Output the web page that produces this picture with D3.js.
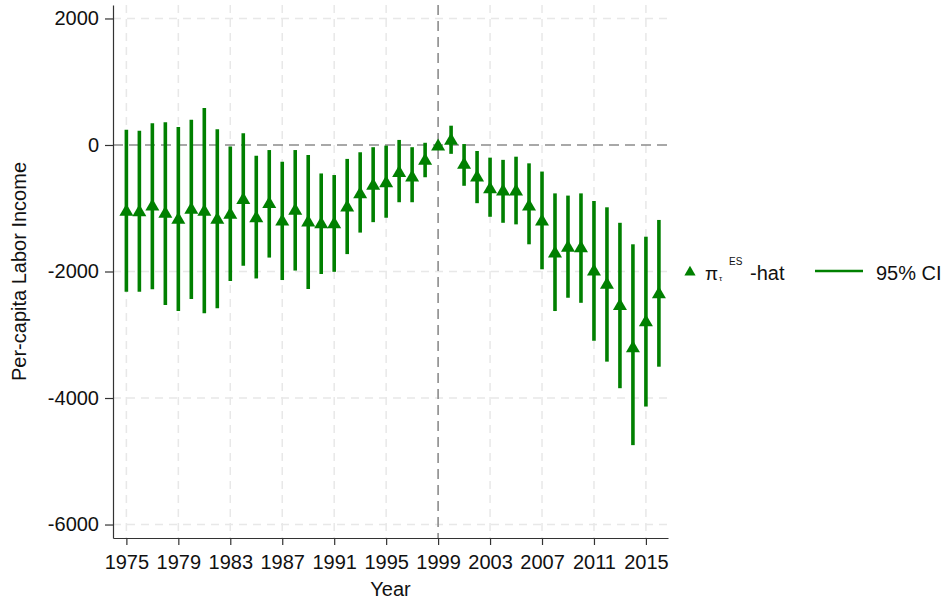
<!DOCTYPE html>
<html>
<head>
<meta charset="utf-8">
<script src="https://cdn.jsdelivr.net/npm/d3@7/dist/d3.min.js"></script>
<style>
  body { margin: 0; background: #fff; }
  text { font-family: "Liberation Sans", Arial, sans-serif; }
</style>
</head>
<body>
<div id="chart"></div>
<script>
// event-study estimates, per-capita labor income (1999 = reference year)
const years = [1975, 1976, 1977, 1978, 1979, 1980, 1981, 1982, 1983, 1984,
    1985, 1986, 1987, 1988, 1989, 1990, 1991, 1992, 1993, 1994, 1995,
    1996, 1997, 1998, 1999, 2000, 2001, 2002, 2003, 2004, 2005,
    2006, 2007, 2008, 2009, 2010, 2011, 2012, 2013, 2014, 2015, 2016];
const estimates = [-1030, -1040, -950, -1065, -1160, -1000, -1030, -1160, -1080, -845,
    -1135, -910, -1185, -1015, -1200, -1230, -1230, -965, -755, -620, -580,
    -420, -490, -225, 0, 90, -290, -490, -675, -710, -710,
    -950, -1185, -1690, -1600, -1610, -1975, -2185, -2520, -3190, -2780, -2335];
const ciUpper = [240, 225, 345, 360, 285, 400, 585, 250, -25, 185,
    -170, -80, -265, -80, -160, -450, -475, -220, -115, -35, -10,
    80, -35, 35, 0, 305, 15, -95, -200, -235, -185,
    -290, -420, -765, -800, -765, -885, -985, -1230, -1570, -1450, -1185];
const ciLower = [-2320, -2320, -2280, -2530, -2625, -2435, -2660, -2580, -2150, -1910,
    -2110, -1780, -2135, -1985, -2275, -2040, -2005, -1725, -1385, -1220, -1150,
    -905, -905, -510, 0, -140, -645, -920, -1135, -1230, -1255,
    -1570, -1965, -2625, -2415, -2495, -3095, -3425, -3845, -4745, -4135, -3505];

const xTicks = [1975, 1979, 1983, 1987, 1991, 1995, 1999, 2003, 2007, 2011, 2015];
const yTicks = [2000, 0, -2000, -4000, -6000];
const refYear = 1999;

drawChart();

function drawChart() {
    const width = 948, height = 601;
    const green = '#008000';
    const fontSize = '20px';

    const svg = d3.select('#chart')
        .append('svg')
        .attr('width', width)
        .attr('height', height);

    // plot region
    const pLeft = 113, pRight = 668, pTop = 5, pBottom = 538;

    const x = d3.scaleLinear().domain([1973.97, 2016.7]).range([pLeft, pRight]);
    const y = d3.scaleLinear().domain([-6213, 2213]).range([pBottom, pTop]);

    // grid lines
    svg.append('g').selectAll('line')
        .data(xTicks.filter(d => d !== refYear))
        .join('line')
        .attr('x1', d => x(d)).attr('x2', d => x(d))
        .attr('y1', pTop).attr('y2', pBottom)
        .style('stroke', '#e8e8e8')
        .style('stroke-width', 1.5)
        .style('stroke-dasharray', '8,6');

    svg.append('g').selectAll('line')
        .data(yTicks.filter(d => d !== 0))
        .join('line')
        .attr('x1', pLeft).attr('x2', pRight)
        .attr('y1', d => y(d)).attr('y2', d => y(d))
        .style('stroke', '#e8e8e8')
        .style('stroke-width', 1.5)
        .style('stroke-dasharray', '8,6');

    // reference lines
    svg.append('line')
        .attr('x1', pLeft).attr('x2', pRight)
        .attr('y1', y(0)).attr('y2', y(0))
        .style('stroke', '#8c8c8c')
        .style('stroke-width', 1.6)
        .style('stroke-dasharray', '10,6');

    svg.append('line')
        .attr('x1', x(refYear)).attr('x2', x(refYear))
        .attr('y1', pTop).attr('y2', pBottom)
        .style('stroke', '#8c8c8c')
        .style('stroke-width', 1.6)
        .style('stroke-dasharray', '10,6');

    // confidence intervals
    const data = years.map((yr, i) => ({ year: yr, est: estimates[i], lo: ciLower[i], hi: ciUpper[i] }));

    svg.append('g').selectAll('line')
        .data(data)
        .join('line')
        .attr('x1', d => x(d.year)).attr('x2', d => x(d.year))
        .attr('y1', d => y(d.hi)).attr('y2', d => y(d.lo))
        .style('stroke', green)
        .style('stroke-width', 3.6);

    // triangle markers
    const tri = s => `M0,${-6.5 * s}L${7 * s},${5.5 * s}L${-7 * s},${5.5 * s}Z`;

    svg.append('g').selectAll('path')
        .data(data)
        .join('path')
        .attr('d', tri(1))
        .attr('transform', d => `translate(${x(d.year)},${y(d.est)})`)
        .style('fill', green);

    // axes
    const yAxis = svg.append('g')
        .attr('transform', `translate(${pLeft},0)`)
        .call(d3.axisLeft(y).tickValues(yTicks).tickFormat(d => String(d))
            .tickSize(8).tickSizeOuter(0).tickPadding(6));

    const xAxis = svg.append('g')
        .attr('transform', `translate(0,${pBottom})`)
        .call(d3.axisBottom(x).tickValues(xTicks).tickFormat(d => String(d))
            .tickSize(7).tickSizeOuter(0).tickPadding(10));

    [yAxis, xAxis].forEach(a => {
        a.select('.domain').style('stroke', '#333').style('stroke-width', 1.2);
        a.selectAll('.tick line').style('stroke', '#333').style('stroke-width', 1.2);
        a.selectAll('.tick text')
            .style('font-size', fontSize)
            .style('font-family', '"Liberation Sans", Arial, sans-serif')
            .style('fill', '#111');
    });

    // axis titles
    svg.append('text')
        .attr('transform', `translate(26,${(pTop + pBottom) / 2}) rotate(-90)`)
        .attr('text-anchor', 'middle')
        .style('font-size', fontSize)
        .style('fill', '#111')
        .text('Per-capita Labor Income');

    svg.append('text')
        .attr('x', (pLeft + pRight) / 2)
        .attr('y', 596)
        .attr('text-anchor', 'middle')
        .style('font-size', fontSize)
        .style('fill', '#111')
        .text('Year');

    // legend
    const legY = 271;
    svg.append('path')
        .attr('d', tri(0.8))
        .attr('transform', `translate(690,${legY})`)
        .style('fill', green);

    svg.append('text').attr('x', 705).attr('y', legY + 9)
        .style('font-size', '19px').style('fill', '#111').text('π');
    svg.append('text').attr('x', 719).attr('y', legY + 10)
        .style('font-size', '8px').style('fill', '#111').text('τ');
    svg.append('text').attr('x', 729).attr('y', legY - 6)
        .style('font-size', '10px').style('fill', '#111').text('ES');
    svg.append('text').attr('x', 750).attr('y', legY + 9)
        .style('font-size', fontSize).style('fill', '#111').text('-hat');

    svg.append('line')
        .attr('x1', 815).attr('x2', 863)
        .attr('y1', legY).attr('y2', legY)
        .style('stroke', green)
        .style('stroke-width', 2.5);

    svg.append('text').attr('x', 876).attr('y', legY + 9)
        .style('font-size', fontSize).style('fill', '#111').text('95% CI');
}
</script>
</body>
</html>
